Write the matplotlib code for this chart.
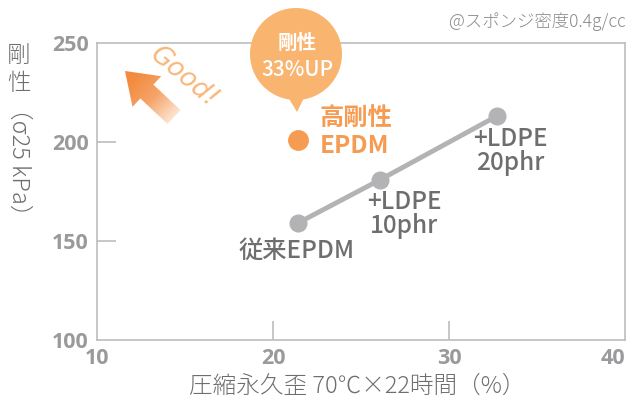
import numpy as np
import matplotlib
matplotlib.use("Agg")
import matplotlib.pyplot as plt
from matplotlib.patches import Polygon, Circle
from matplotlib.colors import LinearSegmentedColormap

plt.rcParams["font.family"] = ["Noto Sans CJK JP", "DejaVu Sans"]

# data
line_x = [21.4, 26.1, 32.7]
line_y = [159, 181, 213]
line_labels = ["従来EPDM", "+LDPE\n10phr", "+LDPE\n20phr"]
hi_x = [21.4]
hi_y = [201]
hi_label = "高剛性\nEPDM"
x_ticks = [10, 20, 30, 40]
y_ticks = [100, 150, 200, 250]

GRAY_LINE = "#b3b3b5"
GRAY_TEXT = "#6e6e70"
TICK_TEXT = "#9a9a9c"
ORANGE = "#f59c52"
BUBBLE = "#f9b46f"

fig = plt.figure(figsize=(6.36, 4.05), dpi=100)
ax = fig.add_axes([97 / 636, 65 / 405, 528 / 636, 297 / 405])
ax.set_xlim(10, 40)
ax.set_ylim(100, 250)

for s in ax.spines.values():
    s.set_color("#bdbdbf")
    s.set_linewidth(1.2)

ax.set_xticks(x_ticks)
ax.set_yticks(y_ticks)
ax.tick_params(axis="both", direction="in", length=14, width=1.2, color="#bdbdbf",
               labelcolor=TICK_TEXT, labelsize=15.5, pad=6)
for lab in ax.get_xticklabels() + ax.get_yticklabels():
    lab.set_fontweight("bold")
    lab.set_family(["Open Sans", "DejaVu Sans"])
# hide tick marks at the frame edges
for t in ax.xaxis.get_major_ticks():
    if t.get_loc() in (10, 40):
        t.tick1line.set_visible(False)
    t.tick2line.set_visible(False)
for t in ax.yaxis.get_major_ticks():
    if t.get_loc() in (100, 250):
        t.tick1line.set_visible(False)
    t.tick2line.set_visible(False)
ax.get_xticklabels()[-1].set_horizontalalignment("right")
ax.get_xticklabels()[-1].set_x(0)

# main series
ax.plot(line_x, line_y, color=GRAY_LINE, lw=3.5, marker="o", ms=12, mfc=GRAY_LINE, mec=GRAY_LINE,
        zorder=3, clip_on=False)
ax.plot(hi_x, hi_y, "o", color=ORANGE, ms=14, zorder=4)

# point labels
lab_kw = dict(color=GRAY_TEXT, fontsize=17.5, fontweight="medium", linespacing=0.9)
ax.annotate(line_labels[0], (line_x[0], line_y[0]), xytext=(-1, -20), textcoords="offset points",
            ha="center", va="center", **lab_kw)
ax.annotate(line_labels[1], (line_x[1], line_y[1]), xytext=(17, -25), textcoords="offset points",
            ha="center", va="center", **lab_kw)
ax.annotate(line_labels[2], (line_x[2], line_y[2]), xytext=(10, -25), textcoords="offset points",
            ha="center", va="center", **lab_kw)
ax.annotate(hi_label, (hi_x[0], hi_y[0]), xytext=(16, 6), textcoords="offset points",
            ha="left", va="center", color=ORANGE, fontsize=17.5, fontweight="bold", linespacing=1.2)

# overlay in pixel coordinates for the decorations
ov = fig.add_axes([0, 0, 1, 1], zorder=5)
ov.set_xlim(0, 636)
ov.set_ylim(405, 0)
ov.axis("off")
ov.patch.set_alpha(0)

# speech bubble
ov.add_patch(Circle((296, 54), 46, color=BUBBLE, lw=0))
ov.add_patch(Polygon([(285, 92), (307, 92), (297, 112)], closed=True, color=BUBBLE, lw=0))
ov.text(297, 43, "剛性", ha="center", va="center", color="white", fontsize=14, fontweight="bold")
ov.text(297, 70, "33%UP", ha="center", va="center", color="white", fontsize=15, fontweight="medium")

# gradient arrow pointing up-left
tip = np.array([125.0, 71.0])
tail = np.array([174.0, 117.0])
d = (tip - tail) / np.linalg.norm(tip - tail)
n = np.array([-d[1], d[0]])
L = np.linalg.norm(tip - tail)
hl, hw, sw = 30.0, 21.0, 9.5
base = tip - d * hl
pts = [tip, base + n * hw, base + n * sw, tail + n * sw, tail - n * sw, base - n * sw, base - n * hw]
poly = Polygon(pts, closed=True, fc="none", ec="none")
ov.add_patch(poly)
xx, yy = np.meshgrid(np.linspace(110, 190, 120), np.linspace(55, 135, 120))
proj = ((xx - tip[0]) * (-d[0]) + (yy - tip[1]) * (-d[1])) / L
cmap = LinearSegmentedColormap.from_list("arr", ["#f28b3e", "#f5a468", "#fde4cf"])
im = ov.imshow(proj, extent=(110, 190, 135, 55), cmap=cmap, vmin=0.15, vmax=1.0,
               origin="upper", interpolation="bilinear", zorder=2)
im.set_clip_path(poly)
ov.set_xlim(0, 636)
ov.set_ylim(405, 0)

ov.text(184, 77, "Good!", ha="center", va="center", color="#f8b77a", fontsize=19,
        rotation=-40, style="italic", family=["DejaVu Sans"], fontweight="light")

# y label, vertical Japanese style
ov.text(19, 55, "剛", ha="center", va="center", color=GRAY_TEXT, fontsize=17, fontweight="light")
ov.text(19, 83, "性", ha="center", va="center", color=GRAY_TEXT, fontsize=17, fontweight="light")
ov.text(19, 96, "（σ25 kPa）", ha="center", va="top", color=GRAY_TEXT, fontsize=17,
        rotation=-90, fontweight="light")

# x label
ov.text(357, 386, "圧縮永久歪 70℃×22時間（%）", ha="center", va="center", color=GRAY_TEXT,
        fontsize=17, fontweight="light")

# note
ov.text(626, 22, "@スポンジ密度0.4g/cc", ha="right", va="center", color="#8a8a8c", fontsize=12.5,
        fontweight="light")

fig.savefig("out.png", dpi=100)
